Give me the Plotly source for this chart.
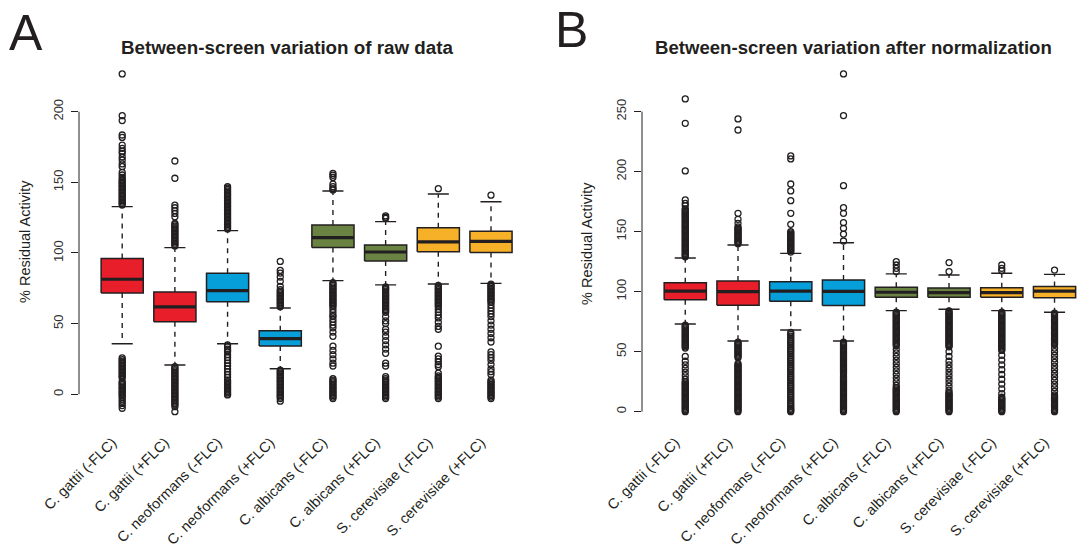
import plotly.graph_objects as go

categories = ["C. gattii (-FLC)", "C. gattii (+FLC)", "C. neoformans (-FLC)", "C. neoformans (+FLC)",
              "C. albicans (-FLC)", "C. albicans (+FLC)", "S. cerevisiae (-FLC)", "S. cerevisiae (+FLC)"]
box_colors = ["#E81F2A", "#E81F2A", "#069FDA", "#069FDA", "#6B8342", "#6B8342", "#F7B128", "#F7B128"]

# Panel A: raw data
raw_q1 = [71.7, 51.4, 65.4, 34.2, 103.8, 94.3, 100.9, 100.4]
raw_med = [81.4, 61.8, 73.4, 39.4, 110.9, 100.7, 107.8, 108.2]
raw_q3 = [96.0, 72.4, 85.6, 45.0, 119.8, 105.7, 117.9, 115.3]
raw_lo = [35.8, 20.7, 35.8, 18.1, 80.4, 77.4, 78.0, 78.5]
raw_hi = [132.8, 103.8, 115.8, 61.0, 143.9, 122.2, 141.7, 136.3]
raw_out = [
    [226.7, 197.2, 193.7, 183.5, 181.8, 176.4, 174.1, 172, 170.5, 168, 165.8, 163, 161.1, 157, 155.2, 153.5,
     152, 151, 150, 149, 148, 147, 146, 145, 144, 143, 142, 141, 140, 139, 138, 137, 136, 135, 134,
     25.7, 24.5, 23.5, 22.5, 21.5, 20.5, 19.5, 18.5, 17.5, 16.5, 15.5, 14.5, 13.5, 12.5, 11.5,
     8.9, 8, 7, 6, 5, 4, 3, 2, 1, 0, -1, -2, -3.5, -5, -6.5, -8, -9.9],
    [165.1, 152.9, 133.9, 132, 130, 128, 125.6, 121, 120, 119, 118, 117, 116, 115, 114, 113, 112, 111, 110,
     109, 108, 107, 106, 105,
     19.5, 18.5, 17.5, 16.5, 15.5, 14.5, 13.5, 12.5, 11.5, 10.5, 9.5, 8.5, 7.5, 6.5, 5.5, 4.5, 3.5, 2.5, 1.5,
     0.5, -0.5, -1.5, -2.5, -3.5, -4.5, -5.5, -6.5, -7.5, -8.8, -12.3],
    [147, 146, 145, 144, 143, 142, 141, 140, 139, 138, 137, 136, 135, 134, 133, 132, 131, 130, 129, 128, 127,
     126, 125, 124, 123, 122, 121, 120, 119, 118, 117,
     34.9, 33.5, 32, 31, 30, 28, 26, 24, 22, 20, 18, 16, 14, 12, 10, 9, 8, 7, 6, 5, 4, 3, 2, 1, 0, -0.5],
    [94.0, 87.7, 85.8, 83, 79.9, 76.4, 74, 73, 72, 71, 70, 69, 68, 67, 66, 65, 64, 63, 62,
     17, 16, 15, 14, 13, 12, 11, 10, 9, 8, 7, 6, 5, 4, 3, 2, 1, 0, -1, -2, -3, -4.9],
    [156.3, 155, 153.5, 148.8, 146.9, 145.5, 144.6,
     79, 78, 77, 76, 75, 74, 73, 72, 71, 70, 69, 68, 67, 66, 65, 64, 63, 62, 60, 58, 56, 55, 53, 51, 49, 47,
     44, 41, 34, 31, 28, 25, 22, 20, 11, 10, 9, 8, 7, 6, 5, 4, 3, 2, 1, 0, -1, -2, -3],
    [126.2, 125.3, 124.5,
     76, 75, 74, 73, 72, 71, 70, 69, 68, 67, 66, 65, 64, 63, 62, 61, 60, 59, 58, 55, 52, 50, 46, 44, 41, 38,
     35, 32, 29, 22, 20, 12.5, 11, 10, 9, 8, 7, 6, 5, 4, 3, 2, 1, 0, -1, -2, -3],
    [145.5,
     77, 76, 75, 74, 73, 72, 71, 70, 69, 68, 67, 66, 65, 64, 63, 62, 60, 58, 56, 54, 51, 48, 46, 34, 27, 25,
     23, 21, 19.5, 15, 13, 12, 11, 10, 9, 8, 7, 6, 5, 4, 3, 2, 1, 0, -1, -2, -3],
    [140.9,
     78, 77, 76, 75, 74, 73, 72, 71, 70, 69, 68, 67, 66, 65, 63, 61, 59, 57, 55, 52, 49, 46, 43, 40, 37, 30,
     28, 26, 24, 21, 18, 16, 14, 10, 9, 8, 7, 6, 5, 4, 3, 2, 1, 0, -1, -2, -3],
]

# Panel B: after normalization
norm_q1 = [93.3, 88.6, 91.9, 88.5, 95.3, 95.3, 95.3, 95.0]
norm_med = [100.4, 100.0, 100.4, 100.3, 99.5, 99.2, 99.2, 100.5]
norm_q3 = [107.5, 108.9, 108.3, 109.6, 103.7, 103.1, 103.3, 104.2]
norm_lo = [73.0, 58.9, 68.0, 58.9, 84.2, 85.3, 84.2, 82.8]
norm_hi = [128.0, 138.9, 131.9, 140.8, 114.8, 113.9, 115.3, 114.4]
norm_out = [
    [260.6, 240.3, 200.6, 176.4, 173.5, 171.7, 169, 168, 167, 166, 165, 164, 163, 162, 161, 160, 159, 158,
     157, 156, 155, 154, 153, 152, 151, 150, 149, 148, 147, 146, 145, 144, 143, 142, 141, 140, 139, 138, 137,
     136, 135, 134, 133, 132, 131, 130, 129,
     72, 71, 70, 69, 68, 67, 66, 65, 64, 63, 62, 61, 60, 59, 58, 57, 56, 55, 54, 53,
     46, 42, 39, 36, 33, 30, 27,
     25, 24, 23, 22, 21, 20, 19, 18, 17, 16, 15, 14, 13, 12, 11, 10, 9, 8, 7, 6, 5, 4, 3, 2, 1, 0],
    [243.9, 234.7, 165.3, 160.3, 156.9, 154, 153, 152, 151, 150, 149, 148, 147, 146, 145, 144, 143, 142,
     141, 140,
     58, 57, 56, 55, 54, 53, 52, 51, 50, 49, 48, 47, 46, 45,
     40, 39, 38, 37, 36, 35, 34, 33, 32, 31, 30, 29, 28, 27, 26, 25, 24, 23, 22, 21, 20, 19, 18, 17, 16, 15,
     14, 13, 12, 11, 10, 9, 8, 7, 6, 5, 4, 3, 2, 1, 0],
    [213.1, 210.6, 189.7, 183.9, 175.8, 165.3, 156.1, 150, 149, 148, 147, 146, 145, 144, 143, 142, 141, 140,
     139, 138, 137, 136, 135, 134, 133,
     66, 64.5, 63, 61.5, 60, 58.5, 57, 55.5, 54, 52.5, 51, 49.5, 48, 46.5, 45, 43.5, 42, 40.5, 39, 37.5, 36,
     34.5, 33, 31.5, 30, 28.5, 27, 25.5, 24, 22.5, 21, 19.5, 18, 16.5, 15, 13.5, 12, 10.5, 9, 7.5, 6, 4.5, 3,
     2, 1, 0],
    [281.4, 246.7, 188.3, 170, 165.3, 157.5, 152.8, 148, 142.2,
     58, 57, 56, 55, 54, 53, 52, 51, 50, 49, 48, 47, 46, 45, 44, 43, 42, 41, 40, 39, 38, 37, 36, 35, 34, 33,
     32, 30.6, 29, 28, 27, 26, 25, 24, 23, 22, 21, 20, 19, 18, 17, 16, 15, 14, 13, 12, 11, 10, 9, 8, 7, 6, 5,
     4, 3, 2, 1, 0],
    [125, 122.2, 119.4, 116.7,
     83, 82, 81, 80, 79, 78, 77, 76, 75, 74, 73, 72, 71, 70, 69, 68, 67, 66, 65, 64, 63, 62, 61, 60, 59, 58,
     57, 56, 55, 52, 49, 46, 43, 40, 37, 34, 31, 28, 25, 22,
     20, 19, 18, 17, 16, 15, 14, 13, 12, 11, 10, 9, 8, 7, 6, 5, 4, 3, 2, 1, 0],
    [124.2, 116.7,
     84, 83, 82, 81, 80, 79, 78, 77, 76, 75, 74, 73, 72, 71, 70, 69, 68, 67, 66, 65, 64, 63, 62, 61, 60, 59,
     58, 57, 56, 55, 54, 50, 46, 42, 39, 36, 33, 30, 27, 24, 21, 18,
     16, 15, 14, 13, 12, 11, 10, 9, 8, 7, 6, 5, 4, 3, 2, 1, 0],
    [122.2, 119.4, 117.5,
     83, 82, 81, 80, 79, 78, 77, 76, 75, 74, 73, 72, 71, 70, 69, 68, 67, 66, 65, 64, 63, 62, 61, 60, 59, 58,
     57, 56, 55, 54, 53, 52, 51, 47, 43, 39, 35, 31, 27, 23, 19, 15,
     12, 11, 10, 9, 8, 7, 6, 5, 4, 3, 2, 1, 0],
    [118,
     82, 81, 80, 79, 78, 77, 76, 75, 74, 73, 72, 71, 70, 69, 68, 67, 66, 65, 64, 63, 62, 61, 60, 59, 58, 57,
     56, 53, 50, 47, 44, 41, 38, 35, 32, 29, 26, 23, 20, 17,
     14, 13, 12, 11, 10, 9, 8, 7, 6, 5, 4, 3, 2, 1, 0],
]

y_ticks_a = [0, 50, 100, 150, 200]
y_ticks_b = [0, 50, 100, 150, 200, 250]

INK = "#231F20"
FONT = "Liberation Sans, Arial, Helvetica, sans-serif"
HALF_BOX = 0.4
HALF_CAP = 0.2

fig = go.Figure()


def add_panel(xa, ya, q1s, meds, q3s, los, his, outs):
    for i in range(len(categories)):
        p = i + 1
        # whiskers (dashed)
        fig.add_trace(go.Scatter(x=[p, p, None, p, p], y=[q3s[i], his[i], None, q1s[i], los[i]],
                                 mode="lines", line=dict(color=INK, width=1.4, dash="5px,5px"),
                                 xaxis=xa, yaxis=ya, hoverinfo="skip", showlegend=False))
        # caps
        fig.add_trace(go.Scatter(x=[p - HALF_CAP, p + HALF_CAP, None, p - HALF_CAP, p + HALF_CAP],
                                 y=[his[i], his[i], None, los[i], los[i]],
                                 mode="lines", line=dict(color=INK, width=1.4),
                                 xaxis=xa, yaxis=ya, hoverinfo="skip", showlegend=False))
        # box
        fig.add_trace(go.Scatter(x=[p - HALF_BOX, p + HALF_BOX, p + HALF_BOX, p - HALF_BOX, p - HALF_BOX],
                                 y=[q1s[i], q1s[i], q3s[i], q3s[i], q1s[i]],
                                 mode="lines", fill="toself", fillcolor=box_colors[i],
                                 line=dict(color=INK, width=1.5),
                                 xaxis=xa, yaxis=ya, hoverinfo="skip", showlegend=False))
        # median
        fig.add_trace(go.Scatter(x=[p - HALF_BOX, p + HALF_BOX], y=[meds[i], meds[i]],
                                 mode="lines", line=dict(color=INK, width=3.2),
                                 xaxis=xa, yaxis=ya, hoverinfo="skip", showlegend=False))
        # outliers
        fig.add_trace(go.Scatter(x=[p] * len(outs[i]), y=outs[i], mode="markers",
                                 marker=dict(symbol="circle-open", size=6, color=INK, line=dict(width=1.3)),
                                 xaxis=xa, yaxis=ya, hoverinfo="skip", showlegend=False))


add_panel("x", "y", raw_q1, raw_med, raw_q3, raw_lo, raw_hi, raw_out)
add_panel("x2", "y2", norm_q1, norm_med, norm_q3, norm_lo, norm_hi, norm_out)

W, H = 1078, 555
ydom = [1 - 425.2 / H, 1 - 60.4 / H]

xcommon = dict(tickmode="array", tickvals=list(range(1, 9)), ticktext=categories, tickangle=-45,
               ticks="", showgrid=False, zeroline=False, showline=False, automargin=False,
               ticklabelstandoff=5, ticklabelshift=-10,
               tickfont=dict(family=FONT, size=14.5, color=INK))
ycommon = dict(ticks="outside", ticklen=7, tickwidth=1, tickcolor=INK, tickangle=-90,
               showgrid=False, zeroline=False, showline=False, automargin=False,
               ticklabelstandoff=3,
               tickfont=dict(family=FONT, size=13, color="#333333"))

fig.update_layout(
    width=W, height=H, margin=dict(l=0, r=0, t=0, b=0, autoexpand=False),
    paper_bgcolor="white", plot_bgcolor="white", showlegend=False,
    xaxis=dict(domain=[79 / W, 534.2 / W], range=[0.18, 8.82], **xcommon),
    yaxis=dict(domain=ydom, range=[-21.9, 236.3], tickvals=y_ticks_a, anchor="x", **ycommon),
    xaxis2=dict(domain=[642 / W, 1.0], range=[0.18, 8.445], anchor="y2", **xcommon),
    yaxis2=dict(domain=ydom, range=[-11.3, 292.7], tickvals=y_ticks_b, anchor="x2", **ycommon),
)

# R-style y axis lines spanning the tick range
fig.add_shape(type="line", xref="x domain", yref="y", x0=0, x1=0, y0=min(y_ticks_a), y1=max(y_ticks_a),
              line=dict(color=INK, width=1))
fig.add_shape(type="line", xref="x2 domain", yref="y2", x0=0, x1=0, y0=min(y_ticks_b), y1=max(y_ticks_b),
              line=dict(color=INK, width=1))

ann = [
    dict(text="A", x=26 / W, y=1 - 33 / H, font=dict(size=50, family=FONT, color=INK)),
    dict(text="B", x=571 / W, y=1 - 30 / H, font=dict(size=50, family=FONT, color=INK)),
    dict(text="<b>Between-screen variation of raw data</b>", x=287 / W, y=1 - 47 / H,
         font=dict(size=18.8, family=FONT, color=INK)),
    dict(text="<b>Between-screen variation after normalization</b>", x=853 / W, y=1 - 47 / H,
         font=dict(size=18.6, family=FONT, color=INK)),
    dict(text="% Residual Activity", x=25 / W, y=1 - 242 / H, textangle=-90,
         font=dict(size=14.5, family=FONT, color=INK)),
    dict(text="% Residual Activity", x=587 / W, y=1 - 244 / H, textangle=-90,
         font=dict(size=14.5, family=FONT, color=INK)),
]
for a in ann:
    fig.add_annotation(xref="paper", yref="paper", showarrow=False, xanchor="center", yanchor="middle", **a)

fig.write_html("out.html", config={"displayModeBar": False},
               post_script="document.body.style.margin='0';document.body.style.overflow='hidden';")
